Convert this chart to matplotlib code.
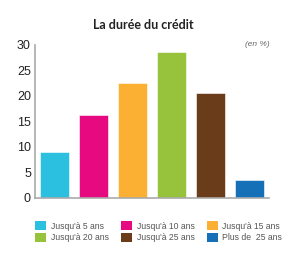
import matplotlib
matplotlib.use("Agg")
import matplotlib.pyplot as plt
from matplotlib.patches import Patch

categories = ["Jusqu'à 5 ans", "Jusqu'à 10 ans", "Jusqu'à 15 ans",
              "Jusqu'à 20 ans", "Jusqu'à 25 ans", "Plus de  25 ans"]
values = [9.1, 16.3, 22.5, 28.7, 20.6, 3.6]
colors = ["#2BBFE0", "#E6097F", "#FBB034", "#97C23C", "#6A3C19", "#1570B8"]
yticks = [0, 5, 10, 15, 20, 25, 30]

plt.rcParams["font.family"] = ["Liberation Sans", "DejaVu Sans"]

fig = plt.figure(figsize=(3.0, 2.64), dpi=100)
ax = fig.add_axes([0.117, 0.25, 0.78, 0.58])

x = range(len(values))
ax.bar(x, values, color=colors, width=0.74, edgecolor="white", linewidth=0.4)

ax.set_xlim(-0.5, 5.5)
ax.set_ylim(0, 30)
ax.set_yticks(yticks)
ax.set_xticks([])
ax.tick_params(axis="y", length=0, labelsize=9, colors="#222222", pad=3)
for s in ["top", "right"]:
    ax.spines[s].set_visible(False)
for s in ["left", "bottom"]:
    ax.spines[s].set_color("#AAAAAA")
    ax.spines[s].set_linewidth(1.2)

fig.text(0.477, 0.905, "La durée du crédit", ha="center", va="center",
         fontsize=9, fontweight="bold", family=["Lato", "DejaVu Sans"],
         color="#222222")
fig.text(0.857, 0.83, "(en %)", ha="center", va="center", fontsize=6,
         style="italic", color="#666666")

# legend: column-major fill, reorder so rows read left to right
order = [0, 3, 1, 4, 2, 5]
handles = [Patch(facecolor=colors[i], label=categories[i]) for i in order]
fig.legend(handles=handles, ncol=3, loc="lower left",
           bbox_to_anchor=(0.117, 0.082), frameon=False, fontsize=6.2,
           handlelength=1.3, handleheight=1.3, handletextpad=0.5,
           labelspacing=0.25, columnspacing=1.45, borderaxespad=0,
           borderpad=0, labelcolor="#555555")

fig.savefig("out.png", dpi=100)
